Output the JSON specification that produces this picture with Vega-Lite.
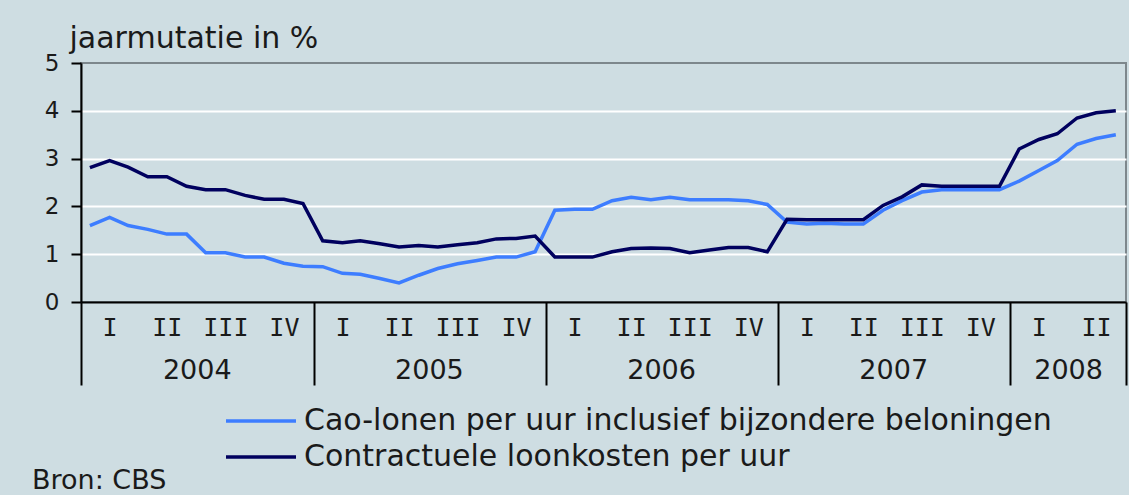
{
  "$schema": "https://vega.github.io/schema/vega-lite/v6.json",
  "width": 1045,
  "height": 239,
  "autosize": {"type": "none"},
  "padding": {"left": 81, "top": 63, "right": 3, "bottom": 193},
  "background": "#cedde2",
  "config": {
    "view": {"stroke": "#7d878c", "strokeWidth": 2},
    "font": "DejaVu Sans"
  },
  "title": {
    "text": "Bron: CBS",
    "orient": "bottom",
    "anchor": "start",
    "frame": "group",
    "dx": -49,
    "offset": -4,
    "fontSize": 27,
    "fontWeight": "normal",
    "color": "#1a1a1a"
  },
  "data": {
    "values": [
      {"maand": "2004/01/15", "reeks": "Cao-lonen per uur inclusief bijzondere beloningen", "v": 1.6},
      {"maand": "2004/02/15", "reeks": "Cao-lonen per uur inclusief bijzondere beloningen", "v": 1.77},
      {"maand": "2004/03/15", "reeks": "Cao-lonen per uur inclusief bijzondere beloningen", "v": 1.6},
      {"maand": "2004/04/15", "reeks": "Cao-lonen per uur inclusief bijzondere beloningen", "v": 1.52},
      {"maand": "2004/05/15", "reeks": "Cao-lonen per uur inclusief bijzondere beloningen", "v": 1.42},
      {"maand": "2004/06/15", "reeks": "Cao-lonen per uur inclusief bijzondere beloningen", "v": 1.42},
      {"maand": "2004/07/15", "reeks": "Cao-lonen per uur inclusief bijzondere beloningen", "v": 1.03},
      {"maand": "2004/08/15", "reeks": "Cao-lonen per uur inclusief bijzondere beloningen", "v": 1.03},
      {"maand": "2004/09/15", "reeks": "Cao-lonen per uur inclusief bijzondere beloningen", "v": 0.94},
      {"maand": "2004/10/15", "reeks": "Cao-lonen per uur inclusief bijzondere beloningen", "v": 0.94},
      {"maand": "2004/11/15", "reeks": "Cao-lonen per uur inclusief bijzondere beloningen", "v": 0.81},
      {"maand": "2004/12/15", "reeks": "Cao-lonen per uur inclusief bijzondere beloningen", "v": 0.75},
      {"maand": "2005/01/15", "reeks": "Cao-lonen per uur inclusief bijzondere beloningen", "v": 0.74},
      {"maand": "2005/02/15", "reeks": "Cao-lonen per uur inclusief bijzondere beloningen", "v": 0.6},
      {"maand": "2005/03/15", "reeks": "Cao-lonen per uur inclusief bijzondere beloningen", "v": 0.58},
      {"maand": "2005/04/15", "reeks": "Cao-lonen per uur inclusief bijzondere beloningen", "v": 0.49},
      {"maand": "2005/05/15", "reeks": "Cao-lonen per uur inclusief bijzondere beloningen", "v": 0.4},
      {"maand": "2005/06/15", "reeks": "Cao-lonen per uur inclusief bijzondere beloningen", "v": 0.56},
      {"maand": "2005/07/15", "reeks": "Cao-lonen per uur inclusief bijzondere beloningen", "v": 0.7},
      {"maand": "2005/08/15", "reeks": "Cao-lonen per uur inclusief bijzondere beloningen", "v": 0.8},
      {"maand": "2005/09/15", "reeks": "Cao-lonen per uur inclusief bijzondere beloningen", "v": 0.87},
      {"maand": "2005/10/15", "reeks": "Cao-lonen per uur inclusief bijzondere beloningen", "v": 0.94},
      {"maand": "2005/11/15", "reeks": "Cao-lonen per uur inclusief bijzondere beloningen", "v": 0.94},
      {"maand": "2005/12/15", "reeks": "Cao-lonen per uur inclusief bijzondere beloningen", "v": 1.05},
      {"maand": "2006/01/15", "reeks": "Cao-lonen per uur inclusief bijzondere beloningen", "v": 1.92},
      {"maand": "2006/02/15", "reeks": "Cao-lonen per uur inclusief bijzondere beloningen", "v": 1.94},
      {"maand": "2006/03/15", "reeks": "Cao-lonen per uur inclusief bijzondere beloningen", "v": 1.94},
      {"maand": "2006/04/15", "reeks": "Cao-lonen per uur inclusief bijzondere beloningen", "v": 2.12},
      {"maand": "2006/05/15", "reeks": "Cao-lonen per uur inclusief bijzondere beloningen", "v": 2.19},
      {"maand": "2006/06/15", "reeks": "Cao-lonen per uur inclusief bijzondere beloningen", "v": 2.14},
      {"maand": "2006/07/15", "reeks": "Cao-lonen per uur inclusief bijzondere beloningen", "v": 2.19},
      {"maand": "2006/08/15", "reeks": "Cao-lonen per uur inclusief bijzondere beloningen", "v": 2.14},
      {"maand": "2006/09/15", "reeks": "Cao-lonen per uur inclusief bijzondere beloningen", "v": 2.14},
      {"maand": "2006/10/15", "reeks": "Cao-lonen per uur inclusief bijzondere beloningen", "v": 2.14},
      {"maand": "2006/11/15", "reeks": "Cao-lonen per uur inclusief bijzondere beloningen", "v": 2.12},
      {"maand": "2006/12/15", "reeks": "Cao-lonen per uur inclusief bijzondere beloningen", "v": 2.04},
      {"maand": "2007/01/15", "reeks": "Cao-lonen per uur inclusief bijzondere beloningen", "v": 1.67},
      {"maand": "2007/02/15", "reeks": "Cao-lonen per uur inclusief bijzondere beloningen", "v": 1.63},
      {"maand": "2007/03/15", "reeks": "Cao-lonen per uur inclusief bijzondere beloningen", "v": 1.65},
      {"maand": "2007/04/15", "reeks": "Cao-lonen per uur inclusief bijzondere beloningen", "v": 1.63},
      {"maand": "2007/05/15", "reeks": "Cao-lonen per uur inclusief bijzondere beloningen", "v": 1.63},
      {"maand": "2007/06/15", "reeks": "Cao-lonen per uur inclusief bijzondere beloningen", "v": 1.92},
      {"maand": "2007/07/15", "reeks": "Cao-lonen per uur inclusief bijzondere beloningen", "v": 2.12},
      {"maand": "2007/08/15", "reeks": "Cao-lonen per uur inclusief bijzondere beloningen", "v": 2.3},
      {"maand": "2007/09/15", "reeks": "Cao-lonen per uur inclusief bijzondere beloningen", "v": 2.35},
      {"maand": "2007/10/15", "reeks": "Cao-lonen per uur inclusief bijzondere beloningen", "v": 2.35},
      {"maand": "2007/11/15", "reeks": "Cao-lonen per uur inclusief bijzondere beloningen", "v": 2.35},
      {"maand": "2007/12/15", "reeks": "Cao-lonen per uur inclusief bijzondere beloningen", "v": 2.35},
      {"maand": "2008/01/15", "reeks": "Cao-lonen per uur inclusief bijzondere beloningen", "v": 2.53},
      {"maand": "2008/02/15", "reeks": "Cao-lonen per uur inclusief bijzondere beloningen", "v": 2.75},
      {"maand": "2008/03/15", "reeks": "Cao-lonen per uur inclusief bijzondere beloningen", "v": 2.96},
      {"maand": "2008/04/15", "reeks": "Cao-lonen per uur inclusief bijzondere beloningen", "v": 3.3},
      {"maand": "2008/05/15", "reeks": "Cao-lonen per uur inclusief bijzondere beloningen", "v": 3.42},
      {"maand": "2008/06/15", "reeks": "Cao-lonen per uur inclusief bijzondere beloningen", "v": 3.5},
      {"maand": "2004/01/15", "reeks": "Contractuele loonkosten per uur", "v": 2.81},
      {"maand": "2004/02/15", "reeks": "Contractuele loonkosten per uur", "v": 2.96},
      {"maand": "2004/03/15", "reeks": "Contractuele loonkosten per uur", "v": 2.82},
      {"maand": "2004/04/15", "reeks": "Contractuele loonkosten per uur", "v": 2.62},
      {"maand": "2004/05/15", "reeks": "Contractuele loonkosten per uur", "v": 2.62},
      {"maand": "2004/06/15", "reeks": "Contractuele loonkosten per uur", "v": 2.42},
      {"maand": "2004/07/15", "reeks": "Contractuele loonkosten per uur", "v": 2.35},
      {"maand": "2004/08/15", "reeks": "Contractuele loonkosten per uur", "v": 2.35},
      {"maand": "2004/09/15", "reeks": "Contractuele loonkosten per uur", "v": 2.23},
      {"maand": "2004/10/15", "reeks": "Contractuele loonkosten per uur", "v": 2.15},
      {"maand": "2004/11/15", "reeks": "Contractuele loonkosten per uur", "v": 2.15},
      {"maand": "2004/12/15", "reeks": "Contractuele loonkosten per uur", "v": 2.06},
      {"maand": "2005/01/15", "reeks": "Contractuele loonkosten per uur", "v": 1.28},
      {"maand": "2005/02/15", "reeks": "Contractuele loonkosten per uur", "v": 1.24},
      {"maand": "2005/03/15", "reeks": "Contractuele loonkosten per uur", "v": 1.28},
      {"maand": "2005/04/15", "reeks": "Contractuele loonkosten per uur", "v": 1.22},
      {"maand": "2005/05/15", "reeks": "Contractuele loonkosten per uur", "v": 1.15},
      {"maand": "2005/06/15", "reeks": "Contractuele loonkosten per uur", "v": 1.18},
      {"maand": "2005/07/15", "reeks": "Contractuele loonkosten per uur", "v": 1.15},
      {"maand": "2005/08/15", "reeks": "Contractuele loonkosten per uur", "v": 1.2},
      {"maand": "2005/09/15", "reeks": "Contractuele loonkosten per uur", "v": 1.24},
      {"maand": "2005/10/15", "reeks": "Contractuele loonkosten per uur", "v": 1.32},
      {"maand": "2005/11/15", "reeks": "Contractuele loonkosten per uur", "v": 1.33},
      {"maand": "2005/12/15", "reeks": "Contractuele loonkosten per uur", "v": 1.38},
      {"maand": "2006/01/15", "reeks": "Contractuele loonkosten per uur", "v": 0.94},
      {"maand": "2006/02/15", "reeks": "Contractuele loonkosten per uur", "v": 0.94},
      {"maand": "2006/03/15", "reeks": "Contractuele loonkosten per uur", "v": 0.94},
      {"maand": "2006/04/15", "reeks": "Contractuele loonkosten per uur", "v": 1.05},
      {"maand": "2006/05/15", "reeks": "Contractuele loonkosten per uur", "v": 1.12},
      {"maand": "2006/06/15", "reeks": "Contractuele loonkosten per uur", "v": 1.13},
      {"maand": "2006/07/15", "reeks": "Contractuele loonkosten per uur", "v": 1.12},
      {"maand": "2006/08/15", "reeks": "Contractuele loonkosten per uur", "v": 1.03},
      {"maand": "2006/09/15", "reeks": "Contractuele loonkosten per uur", "v": 1.09},
      {"maand": "2006/10/15", "reeks": "Contractuele loonkosten per uur", "v": 1.14},
      {"maand": "2006/11/15", "reeks": "Contractuele loonkosten per uur", "v": 1.14},
      {"maand": "2006/12/15", "reeks": "Contractuele loonkosten per uur", "v": 1.05},
      {"maand": "2007/01/15", "reeks": "Contractuele loonkosten per uur", "v": 1.73},
      {"maand": "2007/02/15", "reeks": "Contractuele loonkosten per uur", "v": 1.72},
      {"maand": "2007/03/15", "reeks": "Contractuele loonkosten per uur", "v": 1.72},
      {"maand": "2007/04/15", "reeks": "Contractuele loonkosten per uur", "v": 1.72},
      {"maand": "2007/05/15", "reeks": "Contractuele loonkosten per uur", "v": 1.72},
      {"maand": "2007/06/15", "reeks": "Contractuele loonkosten per uur", "v": 2.02},
      {"maand": "2007/07/15", "reeks": "Contractuele loonkosten per uur", "v": 2.2},
      {"maand": "2007/08/15", "reeks": "Contractuele loonkosten per uur", "v": 2.45},
      {"maand": "2007/09/15", "reeks": "Contractuele loonkosten per uur", "v": 2.42},
      {"maand": "2007/10/15", "reeks": "Contractuele loonkosten per uur", "v": 2.42},
      {"maand": "2007/11/15", "reeks": "Contractuele loonkosten per uur", "v": 2.42},
      {"maand": "2007/12/15", "reeks": "Contractuele loonkosten per uur", "v": 2.42},
      {"maand": "2008/01/15", "reeks": "Contractuele loonkosten per uur", "v": 3.2},
      {"maand": "2008/02/15", "reeks": "Contractuele loonkosten per uur", "v": 3.4},
      {"maand": "2008/03/15", "reeks": "Contractuele loonkosten per uur", "v": 3.52},
      {"maand": "2008/04/15", "reeks": "Contractuele loonkosten per uur", "v": 3.85},
      {"maand": "2008/05/15", "reeks": "Contractuele loonkosten per uur", "v": 3.96},
      {"maand": "2008/06/15", "reeks": "Contractuele loonkosten per uur", "v": 4.0}
    ]
  },
  "layer": [
    {
      "mark": {"type": "line", "strokeWidth": 3.5},
      "encoding": {
        "x": {
          "field": "maand",
          "type": "temporal",
          "scale": {"domain": [{"year": 2004, "month": 1, "date": 1}, {"year": 2008, "month": 7, "date": 1}]},
          "axis": {
            "orient": "bottom",
            "title": null,
            "grid": false,
            "ticks": false,
            "tickSize": 0,
            "domain": true,
            "domainColor": "#000000",
            "domainWidth": 2,
            "values": [
              {"year": 2004, "month": 2, "date": 15}, {"year": 2004, "month": 5, "date": 15}, {"year": 2004, "month": 8, "date": 15}, {"year": 2004, "month": 11, "date": 15},
              {"year": 2005, "month": 2, "date": 15}, {"year": 2005, "month": 5, "date": 15}, {"year": 2005, "month": 8, "date": 15}, {"year": 2005, "month": 11, "date": 15},
              {"year": 2006, "month": 2, "date": 15}, {"year": 2006, "month": 5, "date": 15}, {"year": 2006, "month": 8, "date": 15}, {"year": 2006, "month": 11, "date": 15},
              {"year": 2007, "month": 2, "date": 15}, {"year": 2007, "month": 5, "date": 15}, {"year": 2007, "month": 8, "date": 15}, {"year": 2007, "month": 11, "date": 15},
              {"year": 2008, "month": 2, "date": 15}, {"year": 2008, "month": 5, "date": 15}
            ],
            "labelExpr": "['I','II','III','IV'][floor(month(datum.value)/3)]",
            "labelPadding": 25,
            "labelBaseline": "middle",
            "labelFont": "DejaVu Sans Mono",
            "labelFontSize": 25,
            "labelColor": "#1a1a1a",
            "labelOverlap": false,
            "labelBound": false,
            "labelFlush": false
          }
        },
        "y": {
          "field": "v",
          "type": "quantitative",
          "scale": {"domain": [0, 5]},
          "axis": {
            "values": [0, 1, 2, 3, 4, 5],
            "grid": true,
            "gridColor": {"condition": {"test": "datum.value == 0 || datum.value == 5", "value": "transparent"}, "value": "#ffffff"},
            "gridWidth": 2,
            "domainColor": "#000000",
            "domainWidth": 2,
            "tickColor": "#000000",
            "tickWidth": 2,
            "tickSize": 10,
            "labelFontSize": 23,
            "labelPadding": 12,
            "labelColor": "#1a1a1a",
            "title": "jaarmutatie in %",
            "titleAngle": 0,
            "titleAlign": "left",
            "titleBaseline": "alphabetic",
            "titleX": -12,
            "titleY": -16,
            "titleFontSize": 30,
            "titleFontWeight": "normal",
            "titleColor": "#1a1a1a"
          }
        },
        "color": {
          "field": "reeks",
          "type": "nominal",
          "scale": {
            "domain": ["Cao-lonen per uur inclusief bijzondere beloningen", "Contractuele loonkosten per uur"],
            "range": ["#3d7dff", "#00005e"]
          },
          "legend": {
            "orient": "none",
            "legendX": 165,
            "legendY": 343,
            "title": null,
            "padding": 0,
            "symbolType": "M-3.5,0H3.5",
            "symbolSize": 400,
            "symbolStrokeWidth": 3.5,
            "labelFontSize": 30,
            "labelColor": "#1a1a1a",
            "labelOffset": 28,
            "labelLimit": 2000,
            "rowPadding": 6
          }
        }
      }
    },
    {
      "mark": {"type": "line", "opacity": 0},
      "encoding": {
        "x": {
          "field": "maand",
          "type": "temporal",
          "scale": {"domain": [{"year": 2004, "month": 1, "date": 1}, {"year": 2008, "month": 7, "date": 1}]},
          "axis": {
            "orient": "bottom",
            "title": null,
            "grid": false,
            "ticks": false,
            "tickSize": 0,
            "domain": false,
            "values": [
              {"year": 2004, "month": 7, "date": 1}, {"year": 2005, "month": 7, "date": 1}, {"year": 2006, "month": 7, "date": 1},
              {"year": 2007, "month": 7, "date": 1}, {"year": 2008, "month": 4, "date": 1}
            ],
            "format": "%Y",
            "labelPadding": 68,
            "labelBaseline": "middle",
            "labelFontSize": 27,
            "labelColor": "#1a1a1a",
            "labelOverlap": false,
            "labelBound": false,
            "labelFlush": false
          }
        },
        "y": {"field": "v", "type": "quantitative"},
        "detail": {"field": "reeks"}
      }
    },
    {
      "mark": {"type": "line", "opacity": 0},
      "encoding": {
        "x": {
          "field": "maand",
          "type": "temporal",
          "scale": {"domain": [{"year": 2004, "month": 1, "date": 1}, {"year": 2008, "month": 7, "date": 1}]},
          "axis": {
            "orient": "bottom",
            "title": null,
            "grid": false,
            "ticks": true,
            "tickSize": 83,
            "tickWidth": 2,
            "tickColor": "#000000",
            "labels": false,
            "domain": false,
            "values": [
              {"year": 2004, "month": 1, "date": 1}, {"year": 2005, "month": 1, "date": 1}, {"year": 2006, "month": 1, "date": 1},
              {"year": 2007, "month": 1, "date": 1}, {"year": 2008, "month": 1, "date": 1}, {"year": 2008, "month": 7, "date": 1}
            ]
          }
        },
        "y": {"field": "v", "type": "quantitative"},
        "detail": {"field": "reeks"}
      }
    }
  ],
  "resolve": {"axis": {"x": "independent"}}
}
